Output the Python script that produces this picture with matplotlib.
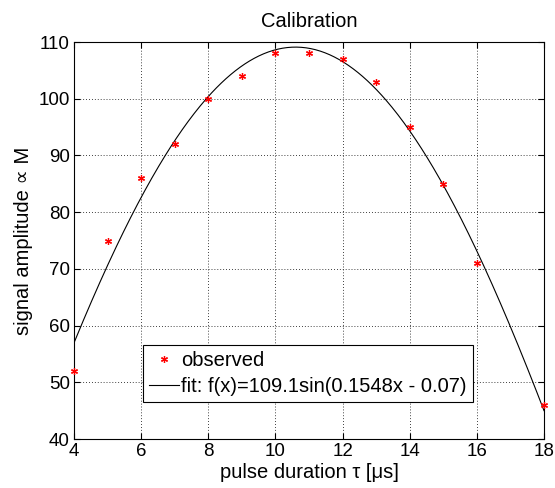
import numpy as np
import matplotlib
matplotlib.use("Agg")
import matplotlib.pyplot as plt

plt.rcParams['font.family'] = ['Liberation Sans', 'DejaVu Sans']

x_obs = [4, 5, 6, 7, 8, 9, 10, 11, 12, 13, 14, 15, 16, 18]
y_obs = [52, 75, 86, 92, 100, 104, 108, 108, 107, 103, 95, 85, 71, 46]
fit_amp, fit_freq, fit_phase = 109.1, 0.1548, 0.07
xticks = [4, 6, 8, 10, 12, 14, 16, 18]
yticks = [40, 50, 60, 70, 80, 90, 100, 110]

fig = plt.figure(figsize=(5.55, 4.88), dpi=100)
ax = fig.add_axes([74/555, 1-439/488, (544-74)/555, (439-42)/488])

xf = np.linspace(4, 18, 400)
yf = fit_amp*np.sin(fit_freq*xf - fit_phase)
ax.plot(x_obs, y_obs, linestyle='none', marker=(6, 2, 0), color='red',
        markersize=5, markeredgewidth=0.9, label='observed', clip_on=False, zorder=3)
ax.plot(xf, yf, color='black', linewidth=0.8,
        label='fit: f(x)=109.1sin(0.1548x - 0.07)')

ax.set_xlim(4, 18)
ax.set_ylim(40, 110)
ax.set_xticks(xticks)
ax.set_yticks(yticks)
ax.grid(True, linestyle=(0, (1, 2.5)), color='black', linewidth=0.6)
ax.tick_params(direction='in', top=True, right=True, labelsize=13.5, length=4, pad=3)
for s in ax.spines.values():
    s.set_linewidth(0.8)
ax.set_title('Calibration', fontsize=14.5, pad=11)
ax.set_xlabel('pulse duration τ [μs]', fontsize=14.5, labelpad=2)
ax.set_ylabel('signal amplitude ∝ M', fontsize=14.5, labelpad=4)

leg = ax.legend(loc='upper left', bbox_to_anchor=((143-74)/470, (439-345)/397),
                fontsize=14.5, fancybox=False, framealpha=1, edgecolor='black',
                borderpad=0.3, handlelength=1.5, handletextpad=0.1, labelspacing=0.35,
                borderaxespad=0)
leg.get_frame().set_linewidth(0.8)
leg.set_zorder(5)

fig.savefig('out.png', dpi=100)
